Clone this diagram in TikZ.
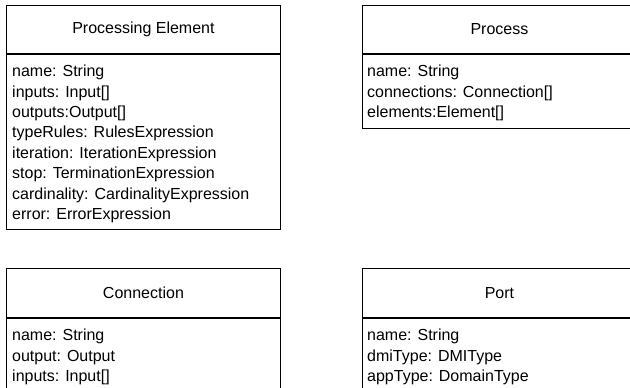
\documentclass[tikz,border=0pt]{standalone}
\usepackage{fontspec}
\setmainfont{Liberation Sans}
\usetikzlibrary{positioning}

\begin{document}
\begin{tikzpicture}[
  x=1pt, y=-1pt,
  font=\fontsize{16}{20.4}\selectfont,
  classhead/.style={draw, line width=0.9pt, minimum width=274pt, minimum height=48pt,
                    inner sep=0pt, anchor=north west},
  classbody/.style={draw, line width=0.9pt, minimum width=274pt, inner sep=0pt},
  attrs/.style={inner sep=0pt, align=left, anchor=north west}
]
\useasboundingbox (0,0) rectangle (630,388);
\clip (0,0) rectangle (630,388);

% ---------------- top row ----------------
\node[classhead] (pe) at (6,5) {Processing Element};
\node[classbody, minimum height=175pt, below=0pt of pe] (pebody) {};
\node[attrs] (peattrs) at ([xshift=6pt, yshift=-11pt]pe.south west)
  {name: String\\ inputs: Input[]\\ outputs:Output[]\\ typeRules: RulesExpression\\
   iteration: IterationExpression\\ stop: TerminationExpression\\
   cardinality: CardinalityExpression\\ error: ErrorExpression};

\node[classhead] (proc) at (362,5) {Process};
\node[classbody, minimum height=74pt, below=0pt of proc] (procbody) {};
\node[attrs] (procattrs) at ([xshift=5pt, yshift=-11pt]proc.south west)
  {name: String\\ connections: Connection[]\\ elements:Element[]};

% ---------------- bottom row ----------------
\node[classhead, minimum height=49pt] (conn) at (6,268) {Connection};
\node[classbody, minimum height=120pt, below=0pt of conn] (connbody) {};
\node[attrs] (connattrs) at ([xshift=6pt, yshift=-11pt]conn.south west)
  {name: String\\ output: Output\\ inputs: Input[]};

\node[classhead, minimum height=49pt] (port) at (362,268) {Port};
\node[classbody, minimum height=120pt, below=0pt of port] (portbody) {};
\node[attrs] (portattrs) at ([xshift=5pt, yshift=-11pt]port.south west)
  {name: String\\ dmiType: DMIType\\ appType: DomainType};

\end{tikzpicture}
\end{document}
